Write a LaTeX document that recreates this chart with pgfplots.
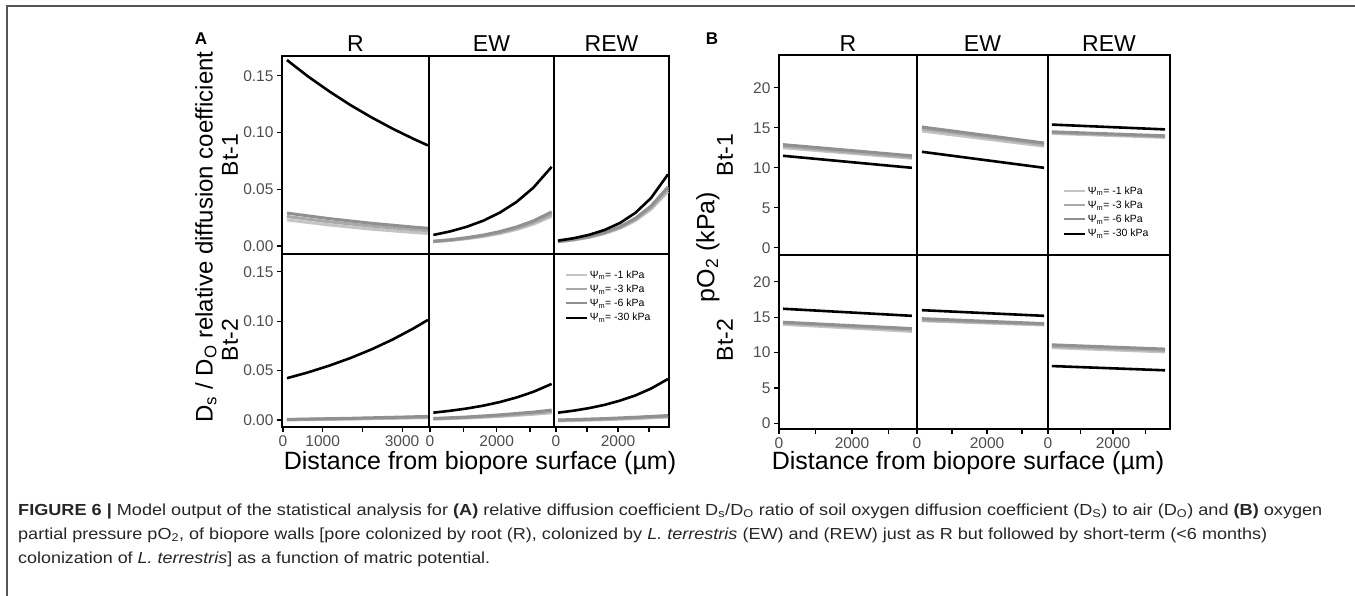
\documentclass[border=0pt]{standalone}
\usepackage{pgfplots}
\pgfplotsset{compat=1.18}
\usepackage{fontspec}
\usepackage{graphicx}
\setmainfont{Liberation Sans}
\definecolor{gA}{HTML}{C4C4C4}
\definecolor{gB}{HTML}{A9A9A9}
\definecolor{gC}{HTML}{909090}
\definecolor{tickgray}{HTML}{4D4D4D}
\definecolor{framegray}{HTML}{555555}
\newcommand{\fs}[1]{\fontsize{#1}{#1}\selectfont}
\pgfplotsset{
  panel/.style={scale only axis, anchor=north west,
    axis line style={line width=1.6pt, black},
    tick style={line width=1.1pt, black},
    major tick length=5pt, tick align=outside,
    xtick pos=left, ytick pos=left,
    ticklabel style={font=\fs{15.5}, text=tickgray},
    xtick=\empty, ytick=\empty, clip=true},
  yA/.style={ytick={0,0.05,0.1,0.15}, yticklabels={0.00,0.05,0.10,0.15}},
  yB/.style={ytick={0,5,10,15,20}, yticklabels={0,5,10,15,20}},
  l1/.style={color=gA, line width=3pt},
  l3/.style={color=gB, line width=3pt},
  l6/.style={color=gC, line width=3pt},
  l30/.style={color=black, line width=2.6pt},
  psileg/.style={legend style={draw=none, fill=none, font=\fs{10.5}, text=black,
      row sep=2pt, nodes={inner sep=1.5pt}},
    legend cell align=left,
    legend image code/.code={\draw[##1,line width=2pt] (0pt,0pt) -- (21pt,0pt);}},
}
\begin{document}
\begin{tikzpicture}
\useasboundingbox (0pt,0pt) rectangle (1355pt,-596pt);
\draw[framegray, line width=1.3pt] (7pt,-596pt) -- (7pt,-6pt) -- (1360pt,-6pt);
% ===== Panel A =====
\begin{axis}[panel, yA, at={(282pt,-56pt)}, width=147pt, height=198pt, xmin=-25, xmax=3678, ymin=-0.0071, ymax=0.1676]
\addplot[l1] coordinates {(100,0.0230)(1166,0.0185)(2232,0.0148)(3298,0.0119)(3650,0.0111)};
\addplot[l3] coordinates {(100,0.0260)(1166,0.0213)(2232,0.0175)(3298,0.0144)(3650,0.0135)};
\addplot[l6] coordinates {(100,0.0290)(1166,0.0241)(2232,0.0200)(3298,0.0166)(3650,0.0156)};
\addplot[l30] coordinates {(100,0.164)(633,0.1495)(1166,0.1364)(1699,0.1243)(2232,0.1134)(2765,0.1034)(3298,0.0943)(3650,0.0887)};
\end{axis}
\begin{axis}[panel, at={(429pt,-56pt)}, width=125pt, height=198pt, xmin=-30, xmax=3720, ymin=-0.0071, ymax=0.1676]
\addplot[l1] coordinates {(100,0.0037)(600,0.0048)(1100,0.0064)(1600,0.0084)(2100,0.0110)(2600,0.0146)(3100,0.0192)(3650,0.0261)};
\addplot[l3] coordinates {(100,0.0039)(600,0.0051)(1100,0.0068)(1600,0.0089)(2100,0.0118)(2600,0.0156)(3100,0.0206)(3650,0.0279)};
\addplot[l6] coordinates {(100,0.0042)(600,0.0055)(1100,0.0073)(1600,0.0096)(2100,0.0127)(2600,0.0168)(3100,0.0221)(3650,0.0300)};
\addplot[l30] coordinates {(100,0.0097)(600,0.0128)(1100,0.0169)(1600,0.0223)(2100,0.0295)(2600,0.0389)(3100,0.0514)(3650,0.0698)};
\end{axis}
\begin{axis}[panel, at={(554pt,-56pt)}, width=115pt, height=198pt, xmin=-65, xmax=3645, ymin=-0.0071, ymax=0.1676]
\addplot[l1] coordinates {(65,0.0036)(565,0.0052)(1065,0.0075)(1565,0.0109)(2065,0.0156)(2565,0.0225)(3065,0.0324)(3613,0.0480)};
\addplot[l3] coordinates {(65,0.0038)(565,0.0055)(1065,0.0079)(1565,0.0114)(2065,0.0163)(2565,0.0235)(3065,0.0338)(3613,0.0500)};
\addplot[l6] coordinates {(65,0.0040)(565,0.0058)(1065,0.0083)(1565,0.0119)(2065,0.0170)(2565,0.0245)(3065,0.0352)(3613,0.0520)};
\addplot[l30] coordinates {(65,0.0047)(565,0.0068)(1065,0.0098)(1565,0.0141)(2065,0.0203)(2565,0.0293)(3065,0.0423)(3613,0.0632)};
\end{axis}
\begin{axis}[panel, yA, at={(282pt,-254pt)}, width=147pt, height=173pt, xmin=-25, xmax=3678, ymin=-0.0071, ymax=0.168,
  xtick={0,1000,2000,3000}, xticklabels={0,1000,,3000}]
\addplot[l1] coordinates {(100,0.0001)(1806,0.0010)(3650,0.0023)};
\addplot[l3] coordinates {(100,0.0003)(1806,0.0014)(3650,0.0029)};
\addplot[l6] coordinates {(100,0.0006)(1806,0.0018)(3650,0.0036)};
\addplot[l30] coordinates {(100,0.0423)(633,0.0482)(1166,0.0550)(1699,0.0627)(2232,0.0715)(2765,0.0815)(3298,0.0929)(3650,0.1013)};
\end{axis}
\begin{axis}[panel, at={(429pt,-254pt)}, width=125pt, height=173pt, xmin=-30, xmax=3720, ymin=-0.0071, ymax=0.168,
  xtick={0,1000,2000,3000}, xticklabels={0,,2000,}]
\addplot[l1] coordinates {(100,0.0009)(1100,0.0020)(2100,0.0036)(3100,0.0058)(3650,0.0073)};
\addplot[l3] coordinates {(100,0.0012)(1100,0.0025)(2100,0.0043)(3100,0.0068)(3650,0.0085)};
\addplot[l6] coordinates {(100,0.0015)(1100,0.0030)(2100,0.0052)(3100,0.0080)(3650,0.0100)};
\addplot[l30] coordinates {(100,0.0074)(600,0.0093)(1100,0.0116)(1600,0.0145)(2100,0.0182)(2600,0.0228)(3100,0.0285)(3650,0.0365)};
\end{axis}
\begin{axis}[panel, psileg, at={(554pt,-254pt)}, width=115pt, height=173pt, xmin=-65, xmax=3645, ymin=-0.0071, ymax=0.168,
  xtick={0,1000,2000,3000}, xticklabels={0,,2000,},
  legend style={at={(0.07,0.925)}, anchor=north west}]
\addplot[l1] coordinates {(65,-0.0009)(1565,0.0003)(2565,0.0014)(3613,0.0030)};
\addplot[l3] coordinates {(65,-0.0005)(1565,0.0008)(2565,0.0020)(3613,0.0036)};
\addplot[l6] coordinates {(65,0.0000)(1565,0.0014)(2565,0.0028)(3613,0.0045)};
\addplot[l30] coordinates {(65,0.0074)(565,0.0094)(1065,0.0120)(1565,0.0153)(2065,0.0196)(2565,0.0249)(3065,0.0318)(3613,0.0415)};
\addlegendentry{Ψ\textsubscript{m}= -1 kPa}
\addlegendentry{Ψ\textsubscript{m}= -3 kPa}
\addlegendentry{Ψ\textsubscript{m}= -6 kPa}
\addlegendentry{Ψ\textsubscript{m}= -30 kPa}
\end{axis}
% ===== Panel B =====
\begin{axis}[panel, yB, at={(779pt,-55pt)}, width=138pt, height=200pt, xmin=0, xmax=3781, ymin=-0.9, ymax=24.1]
\addplot[l1] coordinates {(110,12.5)(3640,11.2)};
\addplot[l3] coordinates {(110,12.7)(3640,11.3)};
\addplot[l6] coordinates {(110,12.9)(3640,11.5)};
\addplot[l30] coordinates {(110,11.5)(3640,10.0)};
\end{axis}
\begin{axis}[panel, at={(917pt,-55pt)}, width=131pt, height=200pt, xmin=0, xmax=3743, ymin=-0.9, ymax=24.1]
\addplot[l1] coordinates {(140,14.6)(3630,12.7)};
\addplot[l3] coordinates {(140,14.9)(3630,12.9)};
\addplot[l6] coordinates {(140,15.1)(3630,13.1)};
\addplot[l30] coordinates {(140,12.0)(3630,10.0)};
\end{axis}
\begin{axis}[panel, psileg, at={(1048pt,-55pt)}, width=122pt, height=200pt, xmin=0, xmax=3754, ymin=-0.9, ymax=24.1,
  legend style={at={(0.1,0.36)}, anchor=north west}]
\addplot[l1] coordinates {(120,14.3)(3600,13.8)};
\addplot[l3] coordinates {(120,14.4)(3600,13.9)};
\addplot[l6] coordinates {(120,14.5)(3600,14.0)};
\addplot[l30] coordinates {(120,15.4)(3600,14.8)};
\addlegendentry{Ψ\textsubscript{m}= -1 kPa}
\addlegendentry{Ψ\textsubscript{m}= -3 kPa}
\addlegendentry{Ψ\textsubscript{m}= -6 kPa}
\addlegendentry{Ψ\textsubscript{m}= -30 kPa}
\end{axis}
\begin{axis}[panel, yB, at={(779pt,-255pt)}, width=138pt, height=174pt, xmin=0, xmax=3781, ymin=-0.8, ymax=23.8,
  xtick={0,1000,2000,3000}, xticklabels={0,,2000,}]
\addplot[l1] coordinates {(110,14.0)(3640,13.0)};
\addplot[l3] coordinates {(110,14.2)(3640,13.2)};
\addplot[l6] coordinates {(110,14.3)(3640,13.4)};
\addplot[l30] coordinates {(110,16.2)(3640,15.2)};
\end{axis}
\begin{axis}[panel, at={(917pt,-255pt)}, width=131pt, height=174pt, xmin=0, xmax=3743, ymin=-0.8, ymax=23.8,
  xtick={0,1000,2000,3000}, xticklabels={0,,2000,}]
\addplot[l1] coordinates {(140,14.5)(3630,13.9)};
\addplot[l3] coordinates {(140,14.6)(3630,14.0)};
\addplot[l6] coordinates {(140,14.8)(3630,14.1)};
\addplot[l30] coordinates {(140,16.0)(3630,15.2)};
\end{axis}
\begin{axis}[panel, at={(1048pt,-255pt)}, width=122pt, height=174pt, xmin=0, xmax=3754, ymin=-0.8, ymax=23.8,
  xtick={0,1000,2000,3000}, xticklabels={0,,2000,}]
\addplot[l1] coordinates {(120,10.7)(3600,10.1)};
\addplot[l3] coordinates {(120,10.9)(3600,10.3)};
\addplot[l6] coordinates {(120,11.1)(3600,10.5)};
\addplot[l30] coordinates {(120,8.1)(3600,7.5)};
\end{axis}
% ===== labels =====
\node[font=\bfseries\fs{17}] at (201pt,-39pt) {A};
\node[font=\bfseries\fs{17}] at (712pt,-39pt) {B};
\foreach \x/\t in {355.5/R,491.5/EW,611.5/REW,848/R,982.5/EW,1109/REW}
  \node[font=\fs{23}, anchor=base] at (\x pt,-52pt) {\t};
\foreach \x in {230,725} {
  \node[font=\fs{23}, rotate=90] at (\x pt,-155pt) {Bt-1};
  \node[font=\fs{23}, rotate=90] at (\x pt,-340pt) {Bt-2};
}
\node[font=\fs{24}, rotate=90] at (206pt,-237pt) {D\textsubscript{s} / D\textsubscript{O} relative diffusion coefficient};
\node[font=\fs{25}, rotate=90] at (708pt,-247pt) {pO\textsubscript{2} (kPa)};
\node[font=\fs{25}] at (480pt,-463pt) {Distance from biopore surface (µm)};
\node[font=\fs{25}] at (968pt,-463pt) {Distance from biopore surface (µm)};
% ===== caption =====
\node[anchor=base west, inner sep=0pt, font=\fs{16}, text=black!85] at (18pt,-515pt) {\resizebox{1304pt}{\height}{\textbf{FIGURE 6 |} Model output of the statistical analysis for \textbf{(A)} relative diffusion coefficient D\textsubscript{s}/D\textsubscript{O} ratio of soil oxygen diffusion coefficient (D\textsubscript{S}) to air (D\textsubscript{O}) and \textbf{(B)} oxygen}};
\node[anchor=base west, inner sep=0pt, font=\fs{16}, text=black!85] at (18pt,-539pt) {\resizebox{1249pt}{\height}{partial pressure pO\textsubscript{2}, of biopore walls [pore colonized by root (R), colonized by \textit{L. terrestris} (EW) and (REW) just as R but followed by short-term (<6 months)}};
\node[anchor=base west, inner sep=0pt, font=\fs{16}, text=black!85] at (18pt,-563pt) {\resizebox{472pt}{\height}{colonization of \textit{L. terrestris}] as a function of matric potential.}};
\end{tikzpicture}
\end{document}
